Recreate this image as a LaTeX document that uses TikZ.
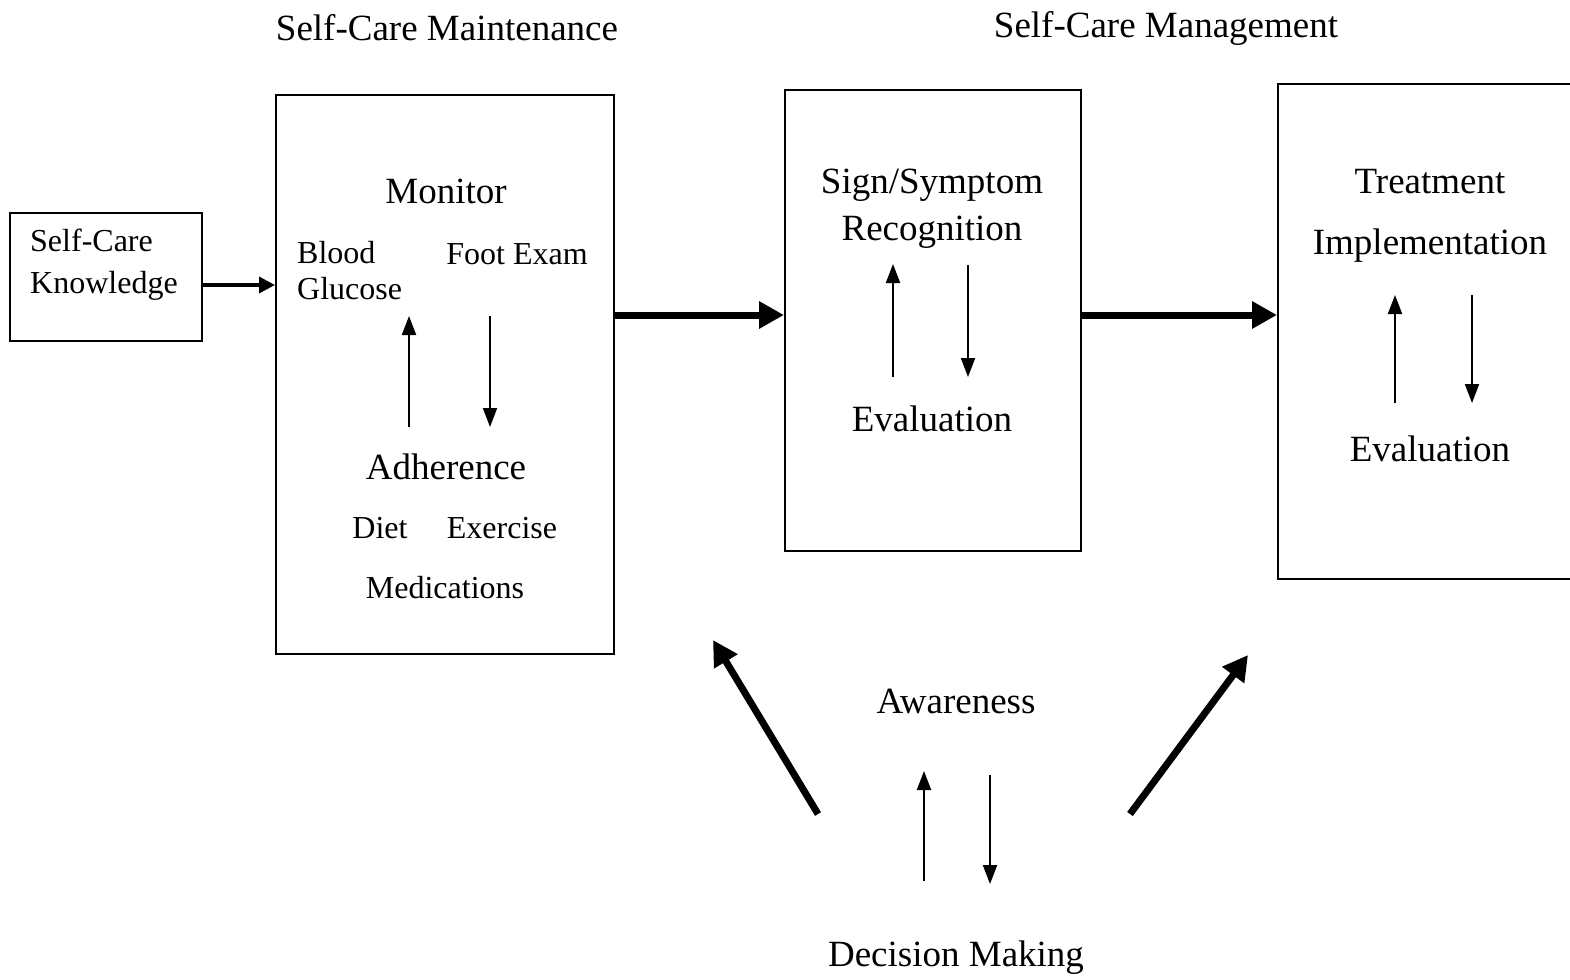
\documentclass[tikz,border=0pt]{standalone}
\usepackage{fontspec}
\setmainfont{Liberation Serif}
\usetikzlibrary{arrows.meta,calc}
\begin{document}
\begin{tikzpicture}[x=1pt,y=-1pt,
  box/.style={draw,line width=2pt,inner sep=0pt},
  big/.style={font=\fontsize{37}{44}\selectfont,inner sep=0pt},
  small/.style={font=\fontsize{32}{36}\selectfont,inner sep=0pt},
  thinarrow/.style={line width=2pt,-{Triangle[length=19pt,width=14pt]}},
  midarrow/.style={line width=3.5pt,-{Triangle[length=16pt,width=16pt]}},
  thickarrow/.style={line width=7pt,-{Triangle[length=25pt,width=26pt]}}]
\useasboundingbox (0,0) rectangle (1570,979);
\clip (0,0) rectangle (1570,979);
% titles
\node[big] (t1) at (447,28) {Self-Care Maintenance};
\node[big] (t2) at (1166,28) {Self-Care Management};
% boxes
\node[box,minimum width=192pt,minimum height=128pt] (kn) at (106,277) {};
\node[font=\fontsize{32}{42}\selectfont,inner sep=0pt,align=left,anchor=west] (knt) at (30,265) {Self-Care\\Knowledge};
\node[box,minimum width=338pt,minimum height=559pt] (b1) at (445,374.5) {};
\node[box,minimum width=296pt,minimum height=461pt] (b2) at (933,320.5) {};
\node[box,minimum width=320pt,minimum height=495pt] (b3) at (1438,331.5) {};
% box1 content
\node[big] (mon) at (446,191) {Monitor};
\node[small,align=left,anchor=west] (bg) at (297,271) {Blood\\Glucose};
\node[small] (fe) at (517,254) {Foot Exam};
\node[big] (adh) at (446,467) {Adherence};
\node[small] (diet) at (380,528) {Diet};
\node[small] (ex) at (502,528) {Exercise};
\node[small] (med) at (445,588) {Medications};
\coordinate (u1a) at (409,427); \coordinate (u1b) at (409,316);
\coordinate (d1a) at (490,316); \coordinate (d1b) at (490,427);
\draw[thinarrow] (u1a) -- (u1b);
\draw[thinarrow] (d1a) -- (d1b);
% box2 content
\node[font=\fontsize{37}{47}\selectfont,inner sep=0pt,align=center] (ss) at (932,209) {Sign/Symptom\\Recognition};
\node[big] (ev2) at (932,419) {Evaluation};
\coordinate (u2a) at (893,377); \coordinate (u2b) at (893,264);
\coordinate (d2a) at (968,265); \coordinate (d2b) at (968,377);
\draw[thinarrow] (u2a) -- (u2b);
\draw[thinarrow] (d2a) -- (d2b);
% box3 content
\node[big] (tr) at (1430,182) {Treatment};
\node[big] (imp) at (1430,246) {Implementation};
\node[big] (ev3) at (1430,449) {Evaluation};
\coordinate (u3a) at (1395,403); \coordinate (u3b) at (1395,295);
\coordinate (d3a) at (1472,295); \coordinate (d3b) at (1472,403);
\draw[thinarrow] (u3a) -- (u3b);
\draw[thinarrow] (d3a) -- (d3b);
% bottom
\node[big] (aw) at (956,701) {Awareness};
\node[big] (dm) at (956,958) {Decision Making};
\coordinate (u4a) at (924,881); \coordinate (u4b) at (924,771);
\coordinate (d4a) at (990,775); \coordinate (d4b) at (990,884);
\draw[thinarrow] (u4a) -- (u4b);
\draw[thinarrow] (d4a) -- (d4b);
% connectors
\coordinate (r285) at (0,285);
\coordinate (r315) at (0,315);
\draw[midarrow] (kn.east |- r285) -- (b1.west |- r285);
\draw[thickarrow] (b1.east |- r315) -- (b2.west |- r315);
\draw[thickarrow] (b2.east |- r315) -- (b3.west |- r315);
\coordinate (l1a) at (818,814); \coordinate (l1b) at (713,640);
\coordinate (r1a) at (1130,814); \coordinate (r1b) at (1248,655);
\draw[thickarrow] (l1a) -- (l1b);
\draw[thickarrow] (r1a) -- (r1b);
\end{tikzpicture}
\end{document}
